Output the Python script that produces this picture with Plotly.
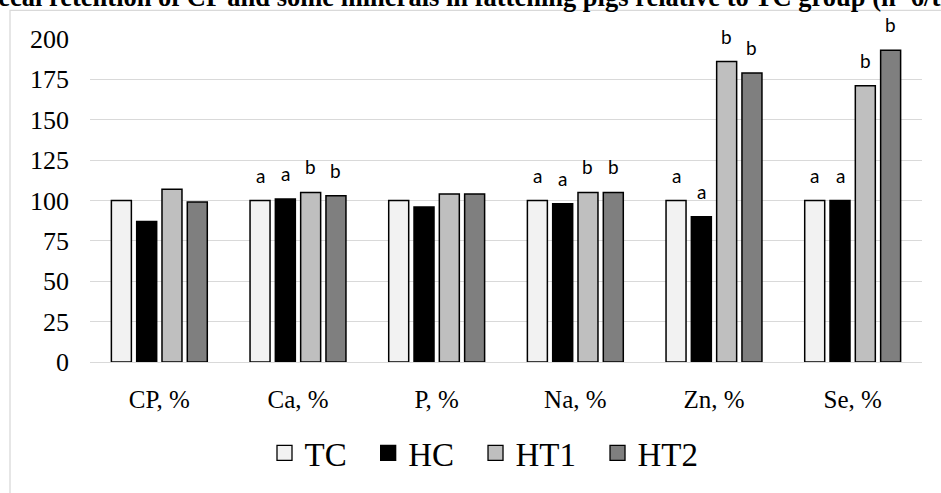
import plotly.graph_objects as go

# Nutrient categories and group values (% of TC group)
categories = ["CP, %", "Ca, %", "P, %", "Na, %", "Zn, %", "Se, %"]
groups = ["TC", "HC", "HT1", "HT2"]
tc_values = [100, 100, 100, 100, 100, 100]
hc_values = [87, 101, 96, 98, 90, 100]
ht1_values = [107, 105, 104, 105, 186, 171]
ht2_values = [99, 103, 104, 105, 179, 193]

# Significance letters per group (empty where no letter is shown)
tc_letters = ["", "a", "", "a", "a", "a"]
hc_letters = ["", "a", "", "a", "a", "a"]
ht1_letters = ["", "b", "", "b", "b", "b"]
ht2_letters = ["", "b", "", "b", "b", "b"]

y_ticks = [0, 25, 50, 75, 100, 125, 150, 175, 200]

series_values = [tc_values, hc_values, ht1_values, ht2_values]
series_letters = [tc_letters, hc_letters, ht1_letters, ht2_letters]
fill_colors = ["#f2f2f2", "#000000", "#bfbfbf", "#7f7f7f"]

BARGAP = 0.27
BARGROUPGAP = 0.21

fig = go.Figure()
for name, vals, color in zip(groups, series_values, fill_colors):
    fig.add_trace(go.Bar(
        name=name,
        x=categories,
        y=vals,
        showlegend=False,
        legendgroup=name,
        marker=dict(color=color, line=dict(color="#000000", width=1.5)),
    ))

# Legend entries with larger square swatches
for i, (name, color) in enumerate(zip(groups, fill_colors)):
    # trailing no-break spaces widen the gap between legend entries
    legend_name = name + ("\u00a0\u00a0" if i < len(groups) - 1 else "")
    fig.add_trace(go.Scatter(
        name=legend_name,
        x=[None], y=[None],
        mode="markers",
        legendgroup=name,
        marker=dict(symbol="square", size=15, color=color,
                    line=dict(color="#000000", width=1.3)),
    ))

# Letters placed over each bar, using the grouped-bar slot geometry
n_series = len(groups)
slot = (1 - BARGAP) / n_series
annotations = []
for si, (vals, letters) in enumerate(zip(series_values, series_letters)):
    offset = -(1 - BARGAP) / 2 + slot * (si + 0.5)
    for ci, (v, letter) in enumerate(zip(vals, letters)):
        if not letter:
            continue
        annotations.append(dict(
            x=ci + offset, y=v, xref="x", yref="y",
            text=letter, showarrow=False,
            yanchor="bottom", yshift=12,
            font=dict(family="Lato, 'Open Sans', sans-serif", size=19, color="#000000"),
        ))

# Chart title (wider than the chart, clipped at the page edge)
annotations.append(dict(
    x=(-20 - 90) / 832, y=(366 - 8) / 327, xref="paper", yref="paper",
    xanchor="left", yanchor="bottom", yshift=-6,
    text="<b>Fecal retention of CP and some minerals in fattening pigs relative to TC group (n=6/treatment)</b>",
    showarrow=False,
    font=dict(family="'Liberation Serif', 'Times New Roman', serif", size=26.5, color="#000000"),
))

fig.update_layout(
    width=941, height=493, autosize=False,
    margin=dict(l=90, r=19, t=39, b=127),
    paper_bgcolor="#ffffff", plot_bgcolor="#ffffff",
    barmode="group", bargap=BARGAP, bargroupgap=BARGROUPGAP,
    font=dict(family="'Liberation Serif', 'Times New Roman', serif", color="#000000"),
    showlegend=True,
    legend=dict(
        orientation="h", x=(484 - 90) / 832, xanchor="center",
        y=(366 - 458) / 327, yanchor="middle",
        font=dict(family="'Liberation Serif', 'Times New Roman', serif", size=33, color="#000000"),
        traceorder="normal",
    ),
    annotations=annotations,
    shapes=[dict(
        type="rect", xref="paper", yref="paper",
        x0=(10 - 90) / 832, x1=(960 - 90) / 832,
        y0=(366 - 520) / 327, y1=(366 - 10) / 327,
        line=dict(color="#d9d9d9", width=1.3), fillcolor="rgba(0,0,0,0)",
        layer="below",
    )],
    xaxis=dict(
        type="category", showgrid=False, showline=False, zeroline=False,
        ticks="", tickfont=dict(size=25), ticklabelstandoff=20,
    ),
    yaxis=dict(
        range=[0, 200], tickvals=y_ticks, showgrid=True,
        gridcolor="#d9d9d9", gridwidth=1.3, zeroline=True,
        zerolinecolor="#d9d9d9", zerolinewidth=1.3, showline=False,
        ticks="", tickfont=dict(size=26), ticklabelstandoff=20,
    ),
)

fig.write_html("out.html")
